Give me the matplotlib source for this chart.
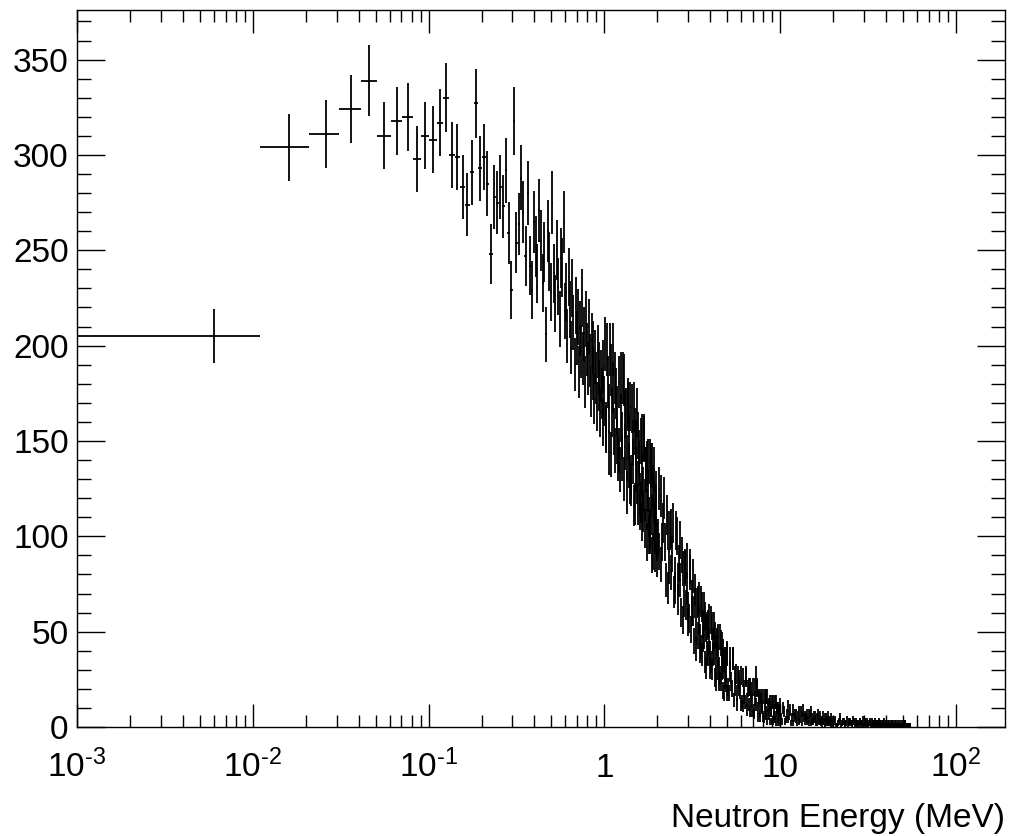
import numpy as np
import matplotlib.pyplot as plt
from matplotlib.ticker import MultipleLocator, LogLocator, NullFormatter

plt.rcParams['font.family'] = ['Liberation Sans', 'DejaVu Sans']
plt.rcParams['mathtext.fontset'] = 'custom'
plt.rcParams['mathtext.rm'] = 'Liberation Sans'
plt.rcParams['mathtext.it'] = 'Liberation Sans'

# histogram with 0.01 MeV bins starting at 0.001 MeV, counts
# every bin 0.006 .. 0.996 MeV
counts_low = [205, 304, 311, 324, 339, 310, 318, 320, 298, 310,
              308, 317, 330, 300, 299, 283, 274, 291, 327, 293,
              299, 285, 248, 278, 275, 283, 273, 292, 259, 229,
              318, 254, 264, 288, 270, 247, 280, 242, 229, 265,
              252, 238, 271, 255, 233, 249, 206, 260, 244, 228,
              275, 238, 222, 250, 231, 214, 246, 241, 265, 218,
              228, 205, 236, 219, 199, 230, 212, 190, 221, 204,
              215, 186, 209, 197, 225, 193, 206, 181, 214, 198,
              188, 210, 192, 176, 203, 185, 199, 172, 194, 183,
              168, 197, 179, 188, 165, 184, 175, 160, 189, 171]
# 1.006 .. 1.986 MeV, every 2nd bin
counts_1_2 = [201, 156, 181, 144, 187, 165, 198, 145, 175, 150,
              181, 135, 162, 141, 182, 147, 165, 123, 170, 137,
              168, 127, 149, 116, 155, 135, 165, 117, 144, 122,
              150, 108, 132, 113, 151, 119, 135, 97, 139, 110,
              139, 101, 121, 90, 126, 108, 135, 91, 116, 97]
# 1.016 .. 1.996 MeV, the bins in between
counts_1_2b = [158, 198, 167, 198, 143, 178, 155, 183, 166, 141,
               145, 183, 153, 183, 130, 164, 141, 168, 152, 128,
               131, 167, 139, 168, 117, 149, 128, 153, 138, 114,
               118, 152, 125, 152, 104, 135, 114, 138, 124, 101,
               104, 137, 111, 137, 92, 120, 101, 123, 109, 88]
# 2.006 .. 4.956 MeV, every 5th bin
counts_2_5 = [99, 125, 85, 107, 97, 111, 73, 103, 81, 107,
              80, 103, 67, 86, 77, 90, 56, 83, 64, 87,
              63, 84, 51, 69, 61, 72, 41, 65, 48, 68,
              47, 66, 38, 54, 48, 58, 31, 53, 38, 57,
              39, 56, 30, 45, 39, 48, 24, 44, 30, 47,
              31, 47, 24, 36, 31, 40, 18, 36, 23, 39]
# 2.036 .. 4.986 MeV
counts_2_5b = [92, 121, 97, 120, 77, 103, 84, 104, 91, 71,
               73, 100, 77, 98, 60, 83, 66, 84, 73, 55,
               57, 81, 61, 79, 45, 65, 50, 66, 56, 40,
               42, 63, 46, 63, 34, 52, 39, 54, 45, 31,
               34, 53, 38, 53, 26, 42, 31, 45, 37, 24,
               27, 44, 30, 43, 19, 35, 25, 36, 29, 18]
# 5.006 .. 9.906 MeV, every 10th bin
counts_5_10 = [38, 18, 29, 20, 36, 21, 28, 12, 25, 19,
               27, 11, 20, 13, 27, 14, 21, 8, 19, 14,
               21, 7, 15, 27, 21, 10, 16, 5, 14, 10,
               16, 4, 11, 6, 16, 7, 12, 3, 11, 8,
               13, 3, 9, 4, 13, 6, 10, 2, 9, 6]
# 5.056 .. 9.956 MeV
counts_5_10b = [21, 36, 24, 36, 14, 27, 18, 27, 21, 12,
                13, 26, 16, 26, 9, 20, 12, 21, 15, 8,
                9, 21, 12, 20, 5, 15, 8, 16, 11, 5,
                6, 16, 8, 16, 3, 11, 6, 13, 9, 3,
                4, 13, 6, 13, 2, 9, 4, 10, 7, 2]
# 10.006 .. 19.756 MeV, every 25th bin
counts_10_20 = [12, 3, 8, 4, 11, 6, 2, 9, 5, 7,
                2, 8, 4, 6, 9, 3, 5, 7, 2, 6,
                8, 3, 4, 6, 2, 5, 7, 3, 4, 1,
                6, 3, 5, 2, 4, 6, 2, 3, 5, 1]
# 10.126 .. 19.876 MeV
counts_10_20b = [5, 10, 3, 7, 4, 9, 5, 2, 7, 4,
                 6, 3, 8, 2, 5, 6, 3, 4, 7, 2,
                 5, 3, 6, 4, 2, 5, 3, 6, 2, 4,
                 3, 1, 5, 3, 2, 4, 3, 1, 4, 2]
# 20.006 .. 54.506 MeV, every 50th bin
counts_20_55 = [2, 4, 1, 3, 5, 2, 3, 1, 4, 2,
                3, 2, 4, 1, 3, 2, 1, 3, 2, 4,
                1, 2, 3, 1, 2, 3, 1, 2, 1, 3,
                2, 1, 2, 3, 1, 2, 1, 2, 3, 1,
                2, 1, 1, 2, 1, 2, 1, 1, 2, 1,
                1, 2, 1, 1, 2, 1, 1, 1, 2, 1,
                1, 1, 1, 2, 1, 1, 1, 1, 1, 1]
# 20.256 .. 54.756 MeV
counts_20_55b = [3, 1, 2, 4, 1, 3, 2, 2, 1, 3,
                 2, 1, 3, 2, 1, 2, 3, 1, 2, 1,
                 3, 1, 2, 1, 2, 1, 3, 1, 2, 1,
                 1, 2, 1, 2, 1, 1, 2, 1, 1, 2,
                 1, 1, 2, 1, 1, 1, 2, 1, 1, 1,
                 2, 1, 1, 1, 1, 2, 1, 1, 1, 1,
                 1, 1, 2, 1, 1, 1, 1, 1, 1, 1]

xtick_vals = [1e-3, 1e-2, 1e-1, 1, 10, 100]
xtick_labels = ['$10^{\\text{-}3}$', '$10^{\\text{-}2}$', '$10^{\\text{-}1}$',
                '1', '10', '$10^{2}$']

bin_w = 0.01
# (first bin centre, spacing, counts)
segments = [(0.006, 0.01, counts_low),
            (1.006, 0.02, counts_1_2), (1.016, 0.02, counts_1_2b),
            (2.006, 0.05, counts_2_5), (2.036, 0.05, counts_2_5b),
            (5.006, 0.1, counts_5_10), (5.056, 0.1, counts_5_10b),
            (10.006, 0.25, counts_10_20), (10.126, 0.25, counts_10_20b),
            (20.006, 0.5, counts_20_55), (20.256, 0.5, counts_20_55b)]
energy = np.concatenate([s + st * np.arange(len(c)) for s, st, c in segments])
counts = np.concatenate([np.array(c, float) for s, st, c in segments])
keep = counts > 0
energy, counts = energy[keep], counts[keep]

fig = plt.figure(figsize=(10.11, 8.36), dpi=100)
ax = fig.add_axes([77 / 1011, 109 / 836, 928 / 1011, 717 / 836])

ax.errorbar(energy, counts, xerr=bin_w / 2, yerr=np.sqrt(counts), fmt='none',
            ecolor='black', elinewidth=1.3, capsize=0)

ax.set_xscale('log')
ax.set_xlim(1e-3, 190)
ax.set_ylim(0, 376)

ax.set_xticks(xtick_vals)
ax.set_xticklabels(xtick_labels)
ax.xaxis.set_minor_locator(LogLocator(base=10, subs=np.arange(2, 10)))
ax.xaxis.set_minor_formatter(NullFormatter())
ax.yaxis.set_major_locator(MultipleLocator(50))
ax.yaxis.set_minor_locator(MultipleLocator(10))

for s in ax.spines.values():
    s.set_linewidth(1.0)
ax.tick_params(which='both', direction='in', top=True, right=True, width=1.0,
               labelsize=24)
ax.tick_params(axis='x', which='major', length=16.5, pad=36)
ax.tick_params(axis='x', which='minor', length=8.5)
ax.tick_params(axis='y', which='major', length=20, pad=6)
ax.tick_params(axis='y', which='minor', length=10)
plt.setp(ax.get_xticklabels(), va='baseline')

fig.text(1005 / 1011, 1 - 827 / 836, 'Neutron Energy (MeV)', ha='right',
         va='baseline', fontsize=24)

fig.savefig('out.png', dpi=100)
